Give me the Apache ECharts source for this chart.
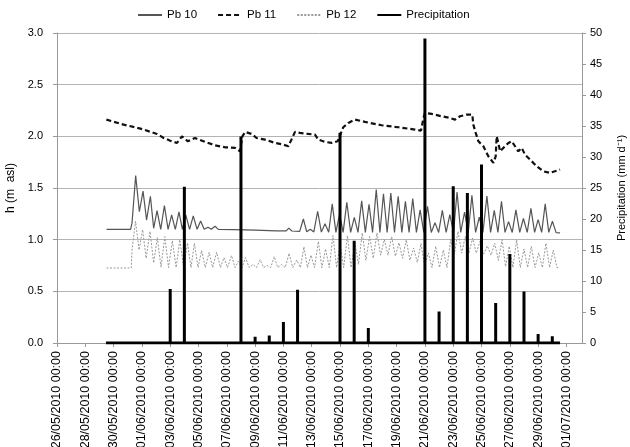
<!DOCTYPE html>
<html>
<head>
<meta charset="utf-8">
<script src="https://cdn.jsdelivr.net/npm/echarts@6/dist/echarts.min.js"></script>
<style>html,body{margin:0;padding:0;background:#fff}#c{width:630px;height:447px}</style>
</head>
<body>
<div id="c"></div>
<script>
// x values are days since 26/05/2010 00:00
var startDate = [2010, 4, 26];
var legendNames = ['Pb 10', 'Pb 11', 'Pb 12', 'Precipitation'];
var hTicks = [0, 0.5, 1.0, 1.5, 2.0, 2.5, 3.0];
var pTicks = [0, 5, 10, 15, 20, 25, 30, 35, 40, 45, 50];

var pb10 = [[3.5,1.10],[5.2,1.10],[5.3,1.16],[5.56,1.62],[5.82,1.27],[6.08,1.47],[6.33,1.19],[6.6,1.42],[6.83,1.11],[7.07,1.28],[7.33,1.10],[7.59,1.33],[7.85,1.10],[8.1,1.24],[8.36,1.10],[8.62,1.27],[8.86,1.10],[9.1,1.24],[9.37,1.10],[9.63,1.23],[9.9,1.10],[10.15,1.18],[10.4,1.10],[10.67,1.12],[10.9,1.10],[11.17,1.13],[11.4,1.10],[12.5,1.098],[14.0,1.092],[15.5,1.086],[16.2,1.085],[16.38,1.112],[16.6,1.084],[17.15,1.08],[17.41,1.20],[17.65,1.076],[17.9,1.10],[18.15,1.075],[18.42,1.275],[18.68,1.073],[18.94,1.155],[19.2,1.072],[19.45,1.346],[19.71,1.07],[19.97,1.25],[20.22,1.07],[20.48,1.362],[20.75,1.07],[21.01,1.215],[21.27,1.07],[21.53,1.375],[21.79,1.07],[22.05,1.343],[22.3,1.07],[22.56,1.485],[22.82,1.07],[23.07,1.444],[23.33,1.07],[23.59,1.452],[23.85,1.07],[24.11,1.42],[24.37,1.07],[24.62,1.372],[24.88,1.07],[25.14,1.397],[25.4,1.07],[25.66,1.288],[25.92,1.07],[26.18,1.323],[26.45,1.07],[26.71,1.165],[26.97,1.07],[27.23,1.283],[27.5,1.07],[27.76,1.243],[28.02,1.07],[28.27,1.461],[28.53,1.07],[28.8,1.267],[29.06,1.07],[29.32,1.43],[29.58,1.07],[29.84,1.217],[30.1,1.07],[30.38,1.423],[30.64,1.07],[30.9,1.283],[31.16,1.07],[31.41,1.372],[31.66,1.07],[31.91,1.175],[32.17,1.07],[32.43,1.289],[32.7,1.07],[32.96,1.205],[33.23,1.07],[33.49,1.303],[33.75,1.07],[34.0,1.194],[34.25,1.07],[34.5,1.346],[34.75,1.07],[35.01,1.178],[35.27,1.068],[35.55,1.065]];

var pb11 = [[3.49,2.162],[4.71,2.113],[5.89,2.075],[7.07,2.023],[7.54,1.984],[8.0,1.958],[8.48,1.936],[8.83,2.0],[9.25,1.952],[9.75,1.984],[10.46,1.946],[11.17,1.913],[11.87,1.894],[12.58,1.888],[12.93,1.855],[13.1,2.0],[13.3,2.043],[13.76,2.023],[14.1,1.984],[14.7,1.968],[15.4,1.936],[15.99,1.92],[16.35,1.904],[16.6,1.978],[16.82,2.043],[17.17,2.033],[17.76,2.023],[18.23,2.017],[18.47,1.968],[18.94,1.946],[19.41,1.936],[19.83,1.952],[20.0,2.01],[20.23,2.088],[20.59,2.13],[21.06,2.162],[21.76,2.14],[22.94,2.107],[24.12,2.088],[25.3,2.065],[25.72,2.055],[25.9,2.178],[26.0,2.226],[26.47,2.217],[27.18,2.194],[27.77,2.178],[28.13,2.162],[28.48,2.194],[28.95,2.21],[29.35,2.21],[29.42,2.113],[29.59,2.033],[29.78,1.952],[30.13,1.904],[30.48,1.807],[30.84,1.743],[31.0,1.807],[31.07,2.0],[31.19,1.936],[31.31,1.855],[31.54,1.888],[31.9,1.936],[32.13,1.952],[32.37,1.904],[32.6,1.855],[32.84,1.888],[33.07,1.823],[33.43,1.775],[33.9,1.71],[34.37,1.662],[34.84,1.646],[35.31,1.668],[35.55,1.678]];

var pb12 = [[3.5,0.726],[5.25,0.726],[5.3,0.9],[5.55,1.178],[5.8,0.90],[6.05,1.097],[6.3,0.82],[6.57,1.08],[6.83,0.775],[7.09,1.02],[7.35,0.735],[7.62,1.03],[7.88,0.73],[8.15,0.99],[8.42,0.73],[8.68,1.0],[8.95,0.73],[9.22,0.968],[9.47,0.73],[9.71,0.965],[9.97,0.73],[10.22,0.895],[10.48,0.73],[10.75,0.878],[11.0,0.73],[11.28,0.878],[11.55,0.73],[11.8,0.826],[12.05,0.73],[12.33,0.847],[12.58,0.73],[12.82,0.79],[13.07,0.73],[13.32,0.826],[13.58,0.73],[13.85,0.76],[14.1,0.73],[14.35,0.805],[14.6,0.73],[14.85,0.75],[15.1,0.73],[15.35,0.836],[15.6,0.73],[15.87,0.76],[16.13,0.73],[16.4,0.868],[16.66,0.73],[16.94,0.803],[17.2,0.73],[17.45,0.932],[17.7,0.73],[17.95,0.85],[18.2,0.73],[18.47,0.982],[18.72,0.73],[18.98,0.91],[19.24,0.73],[19.5,1.04],[19.76,0.73],[20.0,0.96],[20.26,0.73],[20.52,1.04],[20.78,0.73],[21.06,0.975],[21.3,0.76],[21.57,1.065],[21.83,0.80],[22.09,1.03],[22.35,0.82],[22.61,1.065],[22.87,0.85],[23.13,1.0],[23.39,0.85],[23.65,1.03],[23.91,0.84],[24.17,0.97],[24.42,0.82],[24.68,1.0],[24.94,0.80],[25.2,0.92],[25.46,0.78],[25.72,0.962],[25.98,0.75],[26.24,0.872],[26.5,0.73],[26.76,0.936],[27.03,0.73],[27.3,0.9],[27.56,0.73],[27.82,1.0],[28.08,0.86],[28.34,1.08],[28.6,0.87],[28.85,1.03],[29.11,0.87],[29.37,1.016],[29.63,0.87],[29.89,0.984],[30.15,0.86],[30.41,0.94],[30.67,0.85],[30.93,0.966],[31.19,0.80],[31.45,1.0],[31.7,0.74],[31.96,0.936],[32.22,0.73],[32.48,1.0],[32.74,0.73],[33.0,0.91],[33.26,0.73],[33.52,0.936],[33.78,0.73],[34.04,0.872],[34.3,0.73],[34.55,0.966],[34.81,0.73],[35.07,0.9],[35.33,0.73],[35.5,0.73]];

var precipDays = [8, 9, 13, 14, 15, 16, 17, 20, 21, 22, 26, 27, 28, 29, 30, 31, 32, 33, 34, 35];
var precipValues = [8.7, 25.2, 33.3, 1.0, 1.2, 3.4, 8.6, 33.9, 16.5, 2.4, 49.1, 5.1, 25.3, 24.2, 28.8, 6.45, 14.35, 8.3, 1.45, 1.07];
var precipStart = 3.46, precipEnd = 35.55;

// precipitation drawn as a thick line with daily spikes
var precipLine = [[precipStart, 0]];
for (var i = 0; i < precipDays.length; i++) {
  precipLine.push([precipDays[i], 0], [precipDays[i], precipValues[i]], [precipDays[i], 0]);
}
precipLine.push([precipEnd, 0]);

function pad(n){ return (n < 10 ? '0' : '') + n; }
function dayLabel(v) {
  if (Math.abs(v - Math.round(v)) > 1e-6) return '';
  var d = new Date(Date.UTC(startDate[0], startDate[1], startDate[2]) + Math.round(v) * 86400000);
  return pad(d.getUTCDate()) + '/' + pad(d.getUTCMonth() + 1) + '/' + d.getUTCFullYear() + ' 00:00';
}

var font = 'Liberation Sans, Arial, sans-serif';
var chart = echarts.init(document.getElementById('c'), null, {renderer: 'canvas'});
chart.setOption({
  animation: false,
  backgroundColor: '#fff',
  textStyle: {fontFamily: font},
  legend: {
    data: legendNames,
    top: 9, left: 137, padding: 0,
    itemWidth: 24, itemHeight: 12, itemGap: 20,
    itemStyle: {opacity: 0},
    textStyle: {fontFamily: font, fontSize: 11.5, color: '#000'}
  },
  grid: {left: 57, right: 48, top: 33, bottom: 104, containLabel: false, outerBoundsMode: 'none'},
  xAxis: {
    type: 'value', min: 0, max: 37.1, interval: 2,
    axisLine: {show: true, onZero: false, lineStyle: {color: '#999', width: 1}},
    axisTick: {show: true, length: 4, lineStyle: {color: '#999'}},
    splitLine: {show: false},
    axisLabel: {rotate: 90, fontSize: 12.5, color: '#000', fontFamily: font, margin: 8, formatter: dayLabel, showMaxLabel: false}
  },
  yAxis: [{
    type: 'value', min: hTicks[0], max: hTicks[hTicks.length - 1], interval: 0.5,
    name: 'h (m  asl)', nameLocation: 'middle', nameGap: 38, nameRotate: 90,
    nameTextStyle: {fontSize: 12, color: '#000', fontFamily: font},
    axisLine: {show: true, lineStyle: {color: '#999'}},
    axisTick: {show: true, length: 4, lineStyle: {color: '#999'}},
    splitLine: {show: true, lineStyle: {color: '#b4b4b4', width: 1}},
    axisLabel: {fontSize: 11, color: '#000', fontFamily: font, margin: 14, formatter: function(v){ return v.toFixed(1); }}
  }, {
    type: 'value', min: pTicks[0], max: pTicks[pTicks.length - 1], interval: 5,
    name: 'Precipitation (mm d\u207B\u00B9)', nameLocation: 'middle', nameGap: 34, nameRotate: 90,
    nameTextStyle: {fontSize: 11, color: '#000', fontFamily: font},
    axisLine: {show: true, lineStyle: {color: '#999'}},
    axisTick: {show: true, length: 4, lineStyle: {color: '#999'}},
    splitLine: {show: false},
    axisLabel: {fontSize: 11, color: '#000', fontFamily: font, margin: 8}
  }],
  series: [{
    name: 'Pb 10', type: 'line', yAxisIndex: 0, data: pb10, symbol: 'none', showSymbol: false,
    lineStyle: {color: '#555', width: 1.2, type: 'solid'}, itemStyle: {color: '#555'}
  }, {
    name: 'Pb 11', type: 'line', yAxisIndex: 0, data: pb11, symbol: 'none', showSymbol: false,
    lineStyle: {color: '#111', width: 2.2, type: [5, 3]}, itemStyle: {color: '#111'}
  }, {
    name: 'Pb 12', type: 'line', yAxisIndex: 0, data: pb12, symbol: 'none', showSymbol: false,
    lineStyle: {color: '#999', width: 1, type: [2, 1.5]}, itemStyle: {color: '#999'}
  }, {
    name: 'Precipitation', type: 'line', yAxisIndex: 1, data: precipLine, symbol: 'none', showSymbol: false,
    lineStyle: {color: '#000', width: 3, join: 'miter'}, itemStyle: {color: '#000'}
  }]
});
</script>
</body>
</html>
